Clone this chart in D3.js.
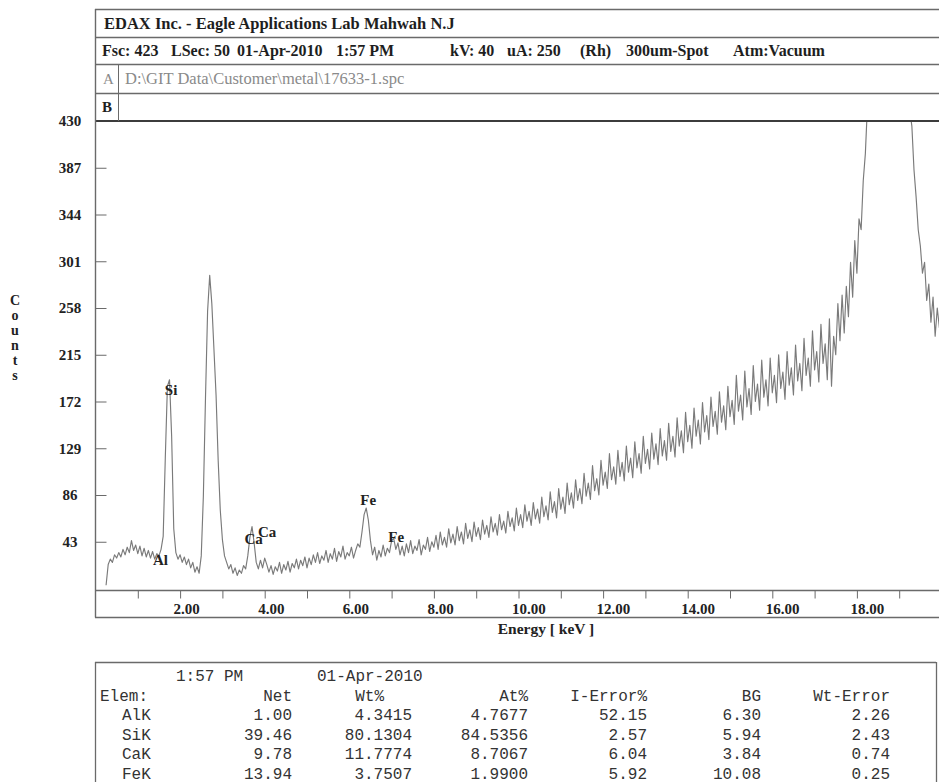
<!DOCTYPE html>
<html>
<head>
<meta charset="utf-8">
<script src="https://cdn.jsdelivr.net/npm/d3@7"></script>
<style>
  html, body { margin: 0; padding: 0; background: #fff; }
  svg { display: block; }
</style>
</head>
<body>
<svg id="chart" width="939" height="782"></svg>
<script>
// EDAX spectrum, channels every 0.05 keV from 0.25 keV
const startEnergy = 0.25;
const channelWidth = 0.05;
const counts = [
  3, 22, 27, 24, 31, 28, 33, 29, 36, 31, 38, 33, 44, 35, 40, 32, 39, 30, 37, 29,           // 0.25 - 1.20
  35, 28, 34, 27, 32, 30, 36, 48, 120, 186, 192, 140, 55, 33, 27, 31, 24, 29, 22, 27,      // 1.25 - 2.20
  19, 24, 15, 20, 14, 30, 85, 175, 255, 288, 262, 220, 178, 118, 72, 45, 30, 24, 18, 22,   // 2.25 - 3.20
  14, 19, 12, 17, 14, 21, 18, 30, 47, 57, 42, 24, 18, 26, 19, 28, 22, 15, 21, 13,          // 3.25 - 4.20
  20, 16, 24, 14, 22, 17, 25, 15, 23, 19, 27, 18, 26, 21, 29, 19, 28, 22, 31, 24,          // 4.25 - 5.20
  33, 23, 30, 26, 35, 24, 32, 27, 37, 25, 34, 29, 39, 27, 33, 30, 38, 28, 35, 41,          // 5.25 - 6.20
  38, 52, 68, 74, 63, 44, 31, 38, 26, 35, 29, 40, 30, 37, 33, 44, 46, 36, 42, 31,          // 6.25 - 7.20
  39, 30, 41, 33, 44, 32, 39, 35, 45, 31, 40, 36, 47, 34, 43, 38, 49, 36, 52, 40,          // 7.25 - 8.20
  47, 38, 55, 42, 50, 40, 57, 44, 52, 41, 60, 46, 54, 43, 61, 48, 56, 45, 63, 50,          // 8.25 - 9.20
  58, 47, 66, 52, 60, 49, 68, 54, 62, 51, 71, 57, 65, 53, 74, 58, 68, 56, 77, 62,          // 9.25 - 10.20
  71, 58, 79, 64, 73, 60, 84, 66, 76, 63, 89, 70, 80, 65, 92, 73, 84, 69, 97, 77,          // 10.25 - 11.20
  88, 74, 100, 81, 92, 78, 106, 85, 97, 82, 113, 90, 101, 86, 118, 95, 107, 92, 124, 100,  // 11.25 - 12.20
  112, 96, 127, 103, 116, 99, 131, 107, 120, 102, 135, 111, 124, 106, 140, 115, 128, 110, 143, 119, // 12.25 - 13.20
  133, 114, 147, 122, 136, 118, 152, 126, 140, 121, 157, 131, 145, 125, 162, 135, 150, 129, 166, 140, // 13.25 - 14.20
  155, 133, 171, 144, 159, 137, 176, 149, 163, 142, 181, 153, 168, 146, 186, 158, 173, 151, 196, 163, // 14.25 - 15.20
  178, 155, 200, 167, 184, 160, 205, 172, 188, 164, 210, 176, 192, 168, 212, 180, 196, 171, 215, 184, // 15.25 - 16.20
  199, 174, 218, 187, 203, 178, 224, 191, 207, 182, 230, 196, 212, 186, 237, 201, 218, 190, 243, 207, // 16.25 - 17.20
  225, 192, 248, 186, 232, 215, 262, 228, 270, 235, 278, 250, 300, 268, 320, 290, 340, 330, 375, 400, // 17.25 - 18.20
  445, 480, 510, 545, 575, 600, 620, 635, 645, 650, 648, 640, 628, 612, 590, 565, 535, 505, 478, 455, // 18.25 - 19.20
  440, 425, 385, 360, 330, 315, 290, 300, 265, 280, 245, 268, 232, 258, 240, 262                       // 19.25 - 20.00
];

const yTicks = [43, 86, 129, 172, 215, 258, 301, 344, 387, 430];
const xTicks = [1, 2, 3, 4, 5, 6, 7, 8, 9, 10, 11, 12, 13, 14, 15, 16, 17, 18, 19, 20];
const xLabels = [2, 4, 6, 8, 10, 12, 14, 16, 18];

// peak identification labels
const peakNames = ['Al', 'Si', 'Ca', 'Ca', 'Fe', 'Fe'];
const peakEnergies = [1.49, 1.74, 3.69, 4.01, 6.40, 7.06];
const peakLabelCounts = [22, 178, 41, 47, 77, 43];

// header text
const labTitle = 'EDAX Inc. - Eagle Applications Lab Mahwah N.J';
const runInfo = ['Fsc: 423', 'LSec: 50', '01-Apr-2010', '1:57 PM', 'kV: 40', 'uA: 250', '(Rh)', '300um-Spot', 'Atm:Vacuum'];
const runInfoX = [102, 171, 237, 336, 450, 507, 580, 626, 733];
const filePath = 'D:\\GIT Data\\Customer\\metal\\17633-1.spc';

// quant results table
const tableColumns = ['Net', 'Wt%', 'At%', 'I-Error%', 'BG', 'Wt-Error'];
const elements = ['AlK', 'SiK', 'CaK', 'FeK'];
const netCounts = [1.00, 39.46, 9.78, 13.94];
const wtPercent = [4.3415, 80.1304, 11.7774, 3.7507];
const atPercent = [4.7677, 84.5356, 8.7067, 1.9900];
const iErrorPercent = [52.15, 2.57, 6.04, 5.92];
const background = [6.30, 5.94, 3.84, 10.08];
const wtError = [2.26, 2.43, 0.74, 0.25];

const W = 939;
const serif = '"Liberation Serif", "Times New Roman", serif';
const mono = '"Liberation Mono", "Courier New", monospace';

const svg = d3.select('#chart');
svg.append('rect').attr('width', W).attr('height', 782).attr('fill', '#fff');

const x = d3.scaleLinear().domain([0, 20]).range([95.5, 941.5]);
const y = d3.scaleLinear().domain([0, 430]).range([588.5, 121]);

// frame lines
const frame = svg.append('g').attr('stroke', '#6a6a6a').attr('fill', 'none');
[9.5, 37.5, 64.5, 93.5].forEach(yy => {
    frame.append('line').attr('x1', 95).attr('x2', W).attr('y1', yy).attr('y2', yy).attr('stroke-width', 1.3);
});
frame.append('line').attr('x1', 95).attr('x2', W).attr('y1', 121).attr('y2', 121)
    .attr('stroke', '#3c3c3c').attr('stroke-width', 2);
frame.append('line').attr('x1', 95.5).attr('x2', 95.5).attr('y1', 9).attr('y2', 617.5).attr('stroke-width', 1.4);
frame.append('line').attr('x1', 118.5).attr('x2', 118.5).attr('y1', 64.5).attr('y2', 121).attr('stroke-width', 1);
frame.append('line').attr('x1', 95).attr('x2', W).attr('y1', 590.5).attr('y2', 590.5).attr('stroke-width', 1.4);
frame.append('line').attr('x1', 95).attr('x2', W).attr('y1', 617.5).attr('y2', 617.5).attr('stroke-width', 1.4);
// results box
frame.append('line').attr('x1', 95).attr('x2', 936).attr('y1', 662.5).attr('y2', 662.5).attr('stroke-width', 1.3);
frame.append('line').attr('x1', 95.5).attr('x2', 95.5).attr('y1', 662).attr('y2', 782).attr('stroke-width', 1.3);
frame.append('line').attr('x1', 936.5).attr('x2', 936.5).attr('y1', 662).attr('y2', 782).attr('stroke-width', 1.3);

// header
const header = svg.append('g').attr('font-family', serif).attr('fill', '#1e1e1e');
header.append('text').attr('x', 104).attr('y', 29).attr('font-size', 16.5).attr('font-weight', 'bold').text(labTitle);
header.selectAll('.run').data(runInfo).join('text')
    .attr('class', 'run')
    .attr('x', (d, i) => runInfoX[i]).attr('y', 56)
    .attr('font-size', 16).attr('font-weight', 'bold')
    .text(d => d);
header.append('text').attr('x', 103).attr('y', 84).attr('font-size', 15).attr('fill', '#8a8a8a').text('A');
header.append('text').attr('x', 125).attr('y', 84).attr('font-size', 16.5).attr('fill', '#8a8a8a').text(filePath);
header.append('text').attr('x', 102).attr('y', 112).attr('font-size', 15).attr('font-weight', 'bold').text('B');

// spectrum
svg.append('clipPath').attr('id', 'plot-clip')
    .append('rect').attr('x', 96).attr('y', 122).attr('width', W - 96).attr('height', 468);

const line = d3.line()
    .x((d, i) => x(startEnergy + i * channelWidth))
    .y(d => y(d));

svg.append('path')
    .datum(counts)
    .attr('clip-path', 'url(#plot-clip)')
    .attr('fill', 'none')
    .attr('stroke', '#7a7a7a')
    .attr('stroke-width', 1.15)
    .attr('stroke-linejoin', 'round')
    .attr('d', line);

// y axis: ticks inside the frame, labels to the left
svg.append('g')
    .attr('transform', 'translate(95.5,0)')
    .call(d3.axisRight(y).tickValues(yTicks.filter(v => v < 430)).tickSize(11).tickFormat(''))
    .call(g => g.select('.domain').remove())
    .selectAll('line').attr('stroke', '#6a6a6a');

const yLab = svg.append('g')
    .attr('transform', 'translate(95.5,0)')
    .call(d3.axisLeft(y).tickValues(yTicks).tickSize(0).tickPadding(0));
yLab.select('.domain').remove();
yLab.selectAll('text')
    .attr('x', -25.5)
    .attr('text-anchor', 'middle')
    .attr('font-family', serif)
    .attr('font-size', 15)
    .attr('font-weight', 'bold')
    .attr('fill', '#222');

svg.append('g').attr('font-family', serif).attr('font-size', 14).attr('font-weight', 'bold').attr('fill', '#222')
    .selectAll('text').data('Counts'.split('')).join('text')
    .attr('x', 15).attr('y', (d, i) => 305 + i * 15)
    .attr('text-anchor', 'middle')
    .text(d => d);

// x axis
svg.append('g')
    .attr('transform', 'translate(0,590.5)')
    .call(d3.axisBottom(x).tickValues(xTicks).tickSize(8).tickFormat(''))
    .call(g => g.select('.domain').remove())
    .selectAll('line').attr('stroke', '#6a6a6a');

const xLab = svg.append('g')
    .attr('transform', 'translate(0,590.5)')
    .call(d3.axisBottom(x).tickValues(xLabels).tickSize(0).tickPadding(13).tickFormat(d3.format('.2f')));
xLab.select('.domain').remove();
xLab.selectAll('text')
    .attr('text-anchor', 'start')
    .attr('dx', -7)
    .attr('font-family', serif)
    .attr('font-size', 15)
    .attr('font-weight', 'bold')
    .attr('fill', '#222');

svg.append('text')
    .attr('x', 546).attr('y', 634)
    .attr('text-anchor', 'middle')
    .attr('font-family', serif).attr('font-size', 15.5).attr('font-weight', 'bold').attr('fill', '#222')
    .text('Energy [ keV ]');

// peak labels
svg.append('g').attr('font-family', serif).attr('font-size', 15).attr('font-weight', 'bold').attr('fill', '#222')
    .selectAll('text').data(peakNames).join('text')
    .attr('x', (d, i) => x(peakEnergies[i]) + 2)
    .attr('y', (d, i) => y(peakLabelCounts[i]))
    .attr('text-anchor', 'middle')
    .text(d => d);

// results table
const table = svg.append('g').attr('font-family', mono).attr('font-size', 16).attr('fill', '#333');
table.append('text').attr('x', 176).attr('y', 681).text('1:57 PM');
table.append('text').attr('x', 317).attr('y', 681).text('01-Apr-2010');
table.append('text').attr('x', 100).attr('y', 701).text('Elem:');

const colRight = [292, 412, 528, 647, 761, 890];
const headRight = [292, 384, 528, 647, 761, 890];
table.selectAll('.colhead').data(tableColumns).join('text')
    .attr('class', 'colhead')
    .attr('x', (d, i) => headRight[i]).attr('y', 701)
    .attr('text-anchor', 'end')
    .text(d => d);

const f2 = d3.format('.2f'), f4 = d3.format('.4f');
const rows = elements.map((el, i) => [
    f2(netCounts[i]), f4(wtPercent[i]), f4(atPercent[i]),
    f2(iErrorPercent[i]), f2(background[i]), f2(wtError[i])
]);

const rowG = table.selectAll('.row').data(rows).join('g')
    .attr('class', 'row')
    .attr('transform', (d, i) => `translate(0,${720 + i * 19.5})`);
rowG.append('text').attr('x', 122).text((d, i) => elements[i]);
rowG.selectAll('.val').data(d => d).join('text')
    .attr('class', 'val')
    .attr('x', (d, i) => colRight[i])
    .attr('text-anchor', 'end')
    .text(d => d);
</script>
</body>
</html>
